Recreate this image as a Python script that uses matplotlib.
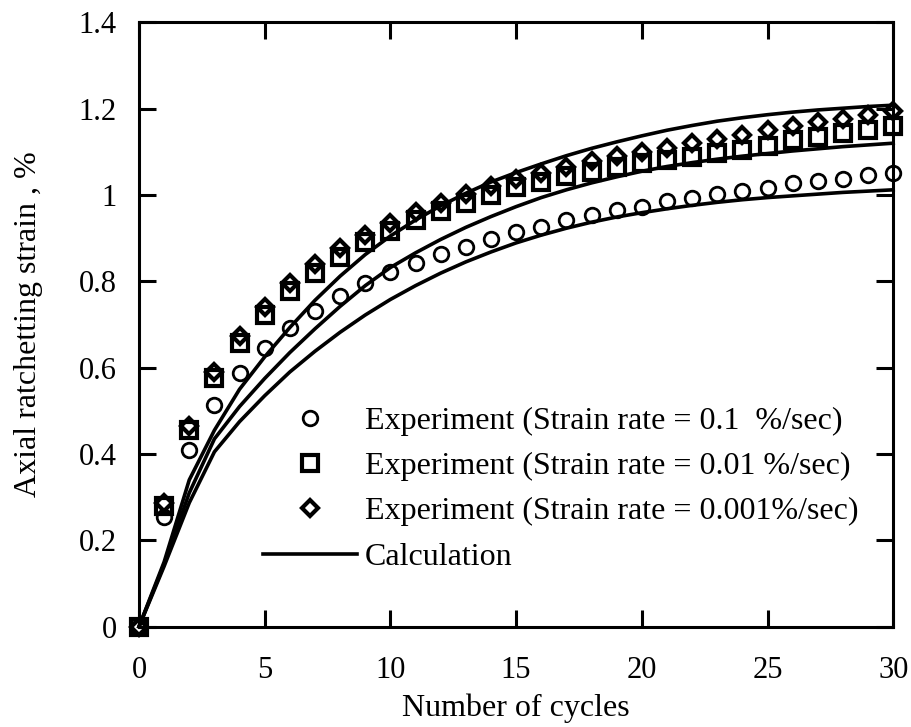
import numpy as np
import matplotlib
matplotlib.use("Agg")
import matplotlib.pyplot as plt

plt.rcParams['font.family'] = ['Liberation Serif', 'DejaVu Serif']

# cycles
cycles = np.arange(0, 31)

# experiment, strain rate 0.1 %/sec (circles)
exp_01 = [0.0, 0.255, 0.41, 0.513, 0.587, 0.646, 0.693, 0.732, 0.766, 0.796, 0.821,
          0.842, 0.863, 0.880, 0.898, 0.915, 0.927, 0.942, 0.954, 0.965, 0.973,
          0.985, 0.993, 1.002, 1.010, 1.017, 1.027, 1.032, 1.037, 1.046, 1.05]
# experiment, strain rate 0.01 %/sec (squares)
exp_001 = [0.0, 0.28, 0.455, 0.576, 0.657, 0.723, 0.777, 0.819, 0.857, 0.89, 0.917,
           0.942, 0.962, 0.981, 1.0, 1.018, 1.031, 1.043, 1.054, 1.064, 1.074,
           1.082, 1.089, 1.097, 1.105, 1.113, 1.127, 1.135, 1.143, 1.151, 1.16]
# experiment, strain rate 0.001 %/sec (diamonds)
exp_0001 = [0.0, 0.287, 0.466, 0.59, 0.673, 0.741, 0.796, 0.839, 0.878, 0.908, 0.936,
            0.96, 0.982, 1.003, 1.02, 1.036, 1.05, 1.065, 1.078, 1.09, 1.1,
            1.11, 1.121, 1.13, 1.14, 1.15, 1.16, 1.168, 1.177, 1.185, 1.195]

# calculation curves
calc_top = [0.0, 0.15, 0.34, 0.455, 0.55, 0.625, 0.693, 0.756, 0.812, 0.862, 0.905,
            0.942, 0.975, 1.004, 1.03, 1.052, 1.072, 1.091, 1.108, 1.123, 1.137,
            1.15, 1.161, 1.171, 1.179, 1.186, 1.192, 1.197, 1.201, 1.205, 1.208]
calc_mid = [0.0, 0.145, 0.31, 0.435, 0.51, 0.575, 0.635, 0.69, 0.742, 0.79, 0.832,
            0.866, 0.897, 0.925, 0.95, 0.973, 0.994, 1.012, 1.028, 1.042, 1.055,
            1.066, 1.075, 1.083, 1.09, 1.096, 1.102, 1.107, 1.112, 1.116, 1.12]
calc_bot = [0.0, 0.14, 0.287, 0.405, 0.475, 0.535, 0.59, 0.638, 0.682, 0.722, 0.758,
            0.79, 0.819, 0.845, 0.868, 0.889, 0.907, 0.923, 0.937, 0.949, 0.959,
            0.968, 0.976, 0.983, 0.989, 0.994, 0.998, 1.002, 1.006, 1.009, 1.012]

xticks = [0, 5, 10, 15, 20, 25, 30]
yticks = [0, 0.2, 0.4, 0.6, 0.8, 1.0, 1.2, 1.4]
ytick_labels = ['0', '0.2', '0.4', '0.6', '0.8', '1', '1.2', '1.4']

fig = plt.figure(figsize=(9.12, 7.27), dpi=100)
ax = fig.add_axes([0.1524, 0.138, 0.8270, 0.8313])

lw = 2.6
ax.plot(cycles, calc_top, color='black', lw=lw, clip_on=False)
ax.plot(cycles, calc_mid, color='black', lw=lw, clip_on=False)
ax.plot(cycles, calc_bot, color='black', lw=lw, clip_on=False, label='Calculation')

ax.plot(cycles, exp_01, ls='none', marker='o', ms=10.5, mew=2.0, mfc='none', mec='black',
        clip_on=False, label='Experiment (Strain rate = 0.1  %/sec)')
ax.plot(cycles, exp_001, ls='none', marker='s', ms=11, mew=3.0, mfc='none', mec='black',
        clip_on=False, label='Experiment (Strain rate = 0.01 %/sec)')
ax.plot(cycles, exp_0001, ls='none', marker='D', ms=8.5, mew=3.0, mfc='none', mec='black',
        clip_on=False, label='Experiment (Strain rate = 0.001%/sec)')

ax.set_xlim(0, 30)
ax.set_ylim(0, 1.4)
ax.set_xticks(xticks)
ax.set_yticks(yticks)
ax.set_yticklabels(ytick_labels)
ax.tick_params(direction='in', length=12, width=2.2, labelsize=22, top=True, right=True)
ax.tick_params(axis='x', pad=21)
ax.tick_params(axis='y', pad=16)
for sp in ax.spines.values():
    sp.set_linewidth(2.2)

ax.set_xlabel('Number of cycles', fontsize=23, labelpad=6)
ax.set_ylabel('Axial ratchetting strain , %', fontsize=23, labelpad=26)

# legend: experiments first, calculation last
handles, labels = ax.get_legend_handles_labels()
order = [1, 2, 3, 0]
leg = ax.legend([handles[i] for i in order], [labels[i] for i in order],
                loc='center left', bbox_to_anchor=(0.1645, 0.2277), frameon=False,
                fontsize=23, handlelength=2.94, handletextpad=0.25, labelspacing=0.5,
                borderpad=0, borderaxespad=0)

fig.savefig('out.png', dpi=100)
